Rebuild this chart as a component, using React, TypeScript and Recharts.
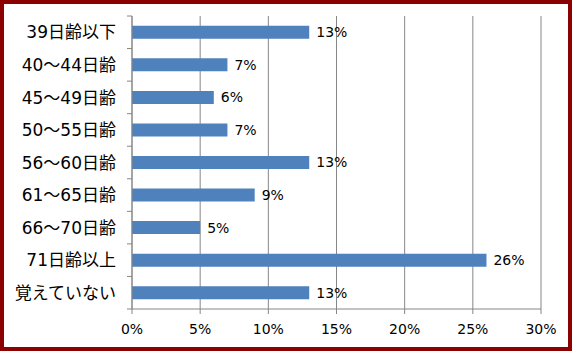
import { BarChart, Bar, XAxis, YAxis, CartesianGrid, LabelList } from 'recharts';

const categories = ['39日齢以下', '40～44日齢', '45～49日齢', '50～55日齢', '56～60日齢', '61～65日齢', '66～70日齢', '71日齢以上', '覚えていない'];
const shares = [13, 7, 6, 7, 13, 9, 5, 26, 13];
const xTicks = [0, 5, 10, 15, 20, 25, 30];

const data = categories.map((name, i) => ({ name, value: shares[i] }));

const AXIS = '#868686';
const FONT = '"DejaVu Sans", "Noto Sans CJK JP", sans-serif';

// category ticks sit on the band edges, like the spreadsheet original
function CategoryTick(props: any) {
  const { x, y, payload, index, visibleTicksCount } = props;
  const band = 293 / (visibleTicksCount || categories.length);
  return (
    <g>
      <line x1={x - 5} x2={x} y1={y - band / 2} y2={y - band / 2} stroke={AXIS} />
      {index === visibleTicksCount - 1 && (
        <line x1={x - 5} x2={x} y1={y + band / 2} y2={y + band / 2} stroke={AXIS} />
      )}
      <text x={x - 16} y={y} dy="0.36em" textAnchor="end" fontSize={17} fill="#000" fontFamily={FONT}>
        {payload.value}
      </text>
    </g>
  );
}

export default function App() {
  return (
    <div
      style={{
        position: 'fixed', left: 0, top: 0, width: 572, height: 351,
        boxSizing: 'border-box', border: '4px solid #8B0000', background: '#fff',
      }}
    >
      <BarChart
        width={564}
        height={343}
        data={data}
        layout="vertical"
        barCategoryGap="30%"
        margin={{ top: 12, right: 27, left: 0, bottom: 0 }}
      >
        <CartesianGrid horizontal={false} stroke={AXIS} />
        <XAxis
          type="number"
          domain={[0, 30]}
          ticks={xTicks}
          tickFormatter={(v) => `${v}%`}
          height={38}
          tickSize={5}
          tickMargin={10}
          stroke={AXIS}
          tick={{ fill: '#000', fontSize: 14, fontFamily: FONT }}
        />
        <YAxis
          type="category"
          dataKey="name"
          width={128}
          tickSize={0}
          tickMargin={0}
          stroke={AXIS}
          tick={<CategoryTick />}
          interval={0}
        />
        <Bar dataKey="value" fill="#4F81BD" isAnimationActive={false}>
          <LabelList
            dataKey="value"
            position="right"
            offset={7}
            formatter={(v: any) => `${v}%`}
            style={{ fill: '#000', fontSize: 14, fontFamily: FONT }}
          />
        </Bar>
      </BarChart>
    </div>
  );
}
